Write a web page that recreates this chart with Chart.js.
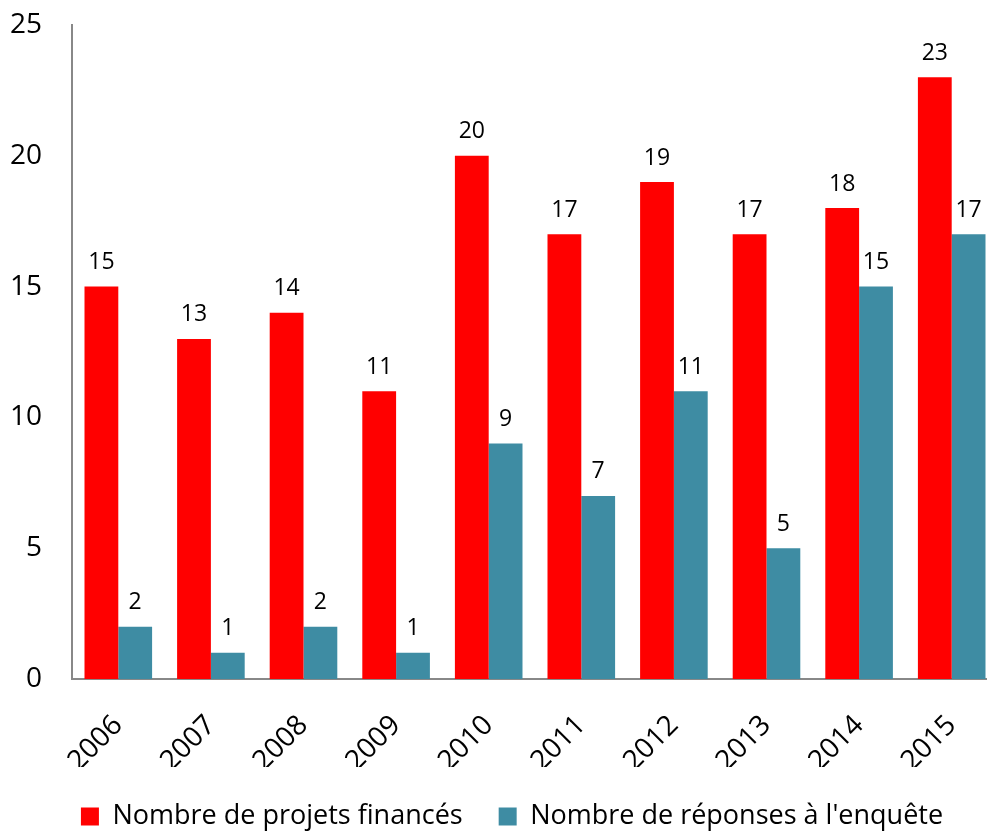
<!DOCTYPE html>
<html>
<head>
<meta charset="utf-8">
<script src="https://cdn.jsdelivr.net/npm/chart.js@4.4.1/dist/chart.umd.min.js"></script>
<style>
  html, body { margin: 0; padding: 0; background: #fff; overflow: hidden; }
  #wrap { width: 987px; height: 832px; overflow: hidden; }
</style>
</head>
<body>
<div id="wrap"><canvas id="myChart" width="1024" height="832"></canvas></div>
<script>
// Data
const years = ["2006", "2007", "2008", "2009", "2010", "2011", "2012", "2013", "2014", "2015"];
const projetsFinances = [15, 13, 14, 11, 20, 17, 19, 17, 18, 23];
const reponsesEnquete = [2, 1, 2, 1, 9, 7, 11, 5, 15, 17];
const yTicks = [0, 5, 10, 15, 20, 25];

const FONT = '"Open Sans", "DejaVu Sans", sans-serif';

// Value above each bar
const valueLabels = {
  id: "valueLabels",
  afterDatasetsDraw(chart) {
    const ctx = chart.ctx;
    ctx.save();
    ctx.font = '23px ' + FONT;
    ctx.fillStyle = "#000";
    ctx.textAlign = "center";
    ctx.textBaseline = "middle";
    chart.data.datasets.forEach(function (ds, i) {
      chart.getDatasetMeta(i).data.forEach(function (bar, j) {
        ctx.fillText(ds.data[j], bar.x, bar.y - 24);
      });
    });
    ctx.restore();
  },
};

// legend centred on the whole canvas, not on the padded box
const legendSpan = {
  id: "legendSpan",
  beforeDraw(chart) {
    chart.legend.left = 0;
    chart.legend.right = chart.width;
  },
};

var ctx = document.getElementById("myChart").getContext("2d");
var myChart = new Chart(ctx, {
  type: "bar",
  data: {
    labels: years,
    datasets: [
      {
        label: "Nombre de projets financés",
        data: projetsFinances,
        backgroundColor: "#FF0000",
        barPercentage: 1,
        categoryPercentage: 0.73,
      },
      {
        label: "Nombre de réponses à l'enquête",
        data: reponsesEnquete,
        backgroundColor: "#3E8CA3",
        barPercentage: 1,
        categoryPercentage: 0.73,
      },
    ],
  },
  options: {
    responsive: false,
    animation: false,
    layout: { padding: { left: 0, right: 26, top: 25, bottom: -8 } },
    plugins: {
      tooltip: { enabled: false },
      legend: {
        position: "bottom",
        labels: {
          boxWidth: 18,
          boxHeight: 18,
          padding: 36,
          color: "#000",
          font: { family: FONT, size: 27 },
        },
      },
    },
    scales: {
      x: {
        grid: { display: false, drawTicks: false },
        border: { display: true, color: "#888888", width: 2 },
        ticks: {
          color: "#000",
          font: { family: FONT, size: 28 },
          maxRotation: 45,
          minRotation: 45,
          padding: 30,
        },
        afterFit: function (scale) { scale.height = 88; },
      },
      y: {
        min: 0,
        max: 25,
        grid: { display: false, drawTicks: false },
        border: { display: true, color: "#888888", width: 2 },
        afterBuildTicks: function (scale) {
          scale.ticks = yTicks.map(function (v) { return { value: v }; });
        },
        ticks: {
          color: "#000",
          font: { family: FONT, size: 28 },
          padding: 30,
        },
        afterFit: function (scale) {
          scale.width = 72;
          scale.paddingTop = 0;
          scale.paddingBottom = 0;
        },
      },
    },
  },
  plugins: [valueLabels, legendSpan],
});
</script>
</body>
</html>
